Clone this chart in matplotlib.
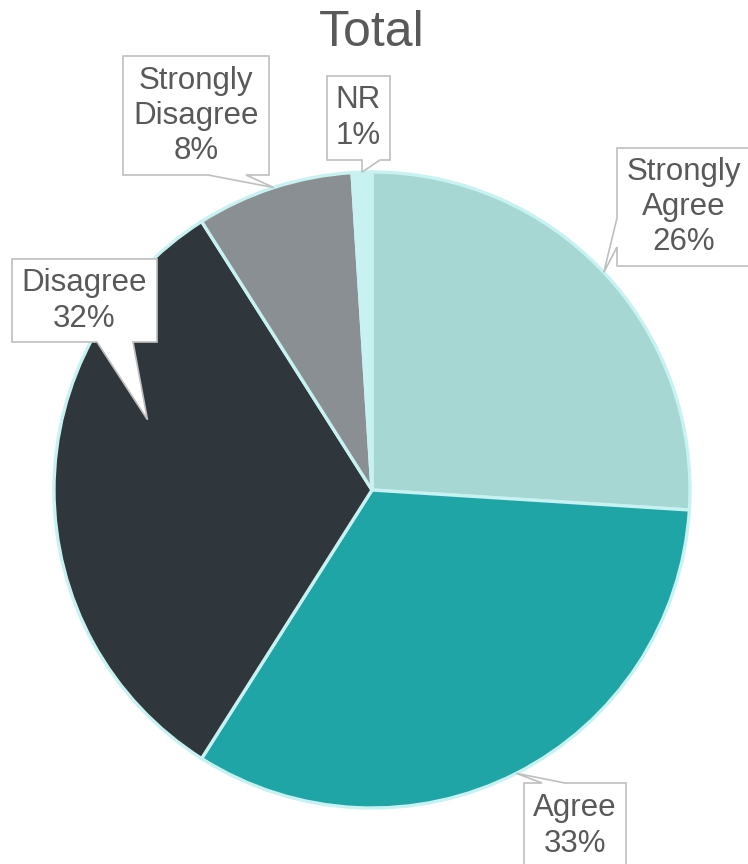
import numpy as np
import matplotlib
matplotlib.use("Agg")
import matplotlib.pyplot as plt
from matplotlib.patches import Polygon

# Survey response shares (clockwise from 12 o'clock)
categories = ["Strongly Agree", "Agree", "Disagree", "Strongly Disagree", "NR"]
shares = [26, 33, 32, 8, 1]
colors = ["#A6D7D3", "#1FA5A5", "#2F363C", "#8A8F93", "#C8F2F2"]
title = "Total"

W, H = 748, 864
fig = plt.figure(figsize=(W / 100, H / 100), dpi=100)
ax = fig.add_axes([0, 0, 1, 1])

plt.rcParams["font.family"] = ["Liberation Sans", "DejaVu Sans"]
text_color = "#595959"

cx, cy, R = 372, H - 490, 318
wedges, _ = ax.pie(shares, colors=colors, startangle=90, counterclock=False,
                   center=(cx, cy), radius=R, frame=True,
                   wedgeprops=dict(edgecolor="#C8F2F2", linewidth=2.4))
ax.set_xlim(0, W)
ax.set_ylim(0, H)
ax.set_aspect("equal")
ax.axis("off")

ax.text(cx, H - 33, title, ha="center", va="center", fontsize=36, color=text_color)

# Callout layout (pixel units, y measured from the top edge)
# box: x0, x1, top, bottom; side of pointer; pointer base span; text centre;
# tip: position along the slice (0 = start, 1 = end) and radial fraction
callouts = {
    "Strongly Agree":    dict(box=(617, 752, 148, 266), side="left", base=(218, 247), tc=(684, 207), tip=(0.5, 1.0)),
    "Agree":             dict(box=(524, 626, 783, 880), side="top", base=(542, 565), tc=(575, 826), tip=(0.5, 1.0)),
    "Disagree":          dict(box=(12, 157, 259, 342), side="bottom", base=(97, 133), tc=(84, 301), tip=(0.651, 0.74)),
    "Strongly Disagree": dict(box=(123, 269, 56, 175), side="bottom", base=(208, 246), tc=(196, 116), tip=(0.5, 1.0)),
    "NR":                dict(box=(327, 390, 76, 160), side="bottom", base=(362, 380), tc=(358, 118), tip=(0.5, 1.0)),
}

for wedge, cat, val in zip(wedges, categories, shares):
    c = callouts[cat]
    t1, t2 = wedge.theta1, wedge.theta2
    frac, rfrac = c["tip"]
    ang = np.deg2rad(t2 - frac * (t2 - t1))
    tx, ty = cx + R * rfrac * np.cos(ang), cy + R * rfrac * np.sin(ang)
    x0, x1, top, bot = c["box"]
    yt, yb = H - top, H - bot
    b0, b1 = c["base"]
    if c["side"] == "left":
        pts = [(x0, yt), (x1, yt), (x1, yb), (x0, yb), (x0, H - b1), (tx, ty), (x0, H - b0)]
    elif c["side"] == "top":
        pts = [(x0, yt), (b0, yt), (tx, ty), (b1, yt), (x1, yt), (x1, yb), (x0, yb)]
    else:
        pts = [(x0, yt), (x1, yt), (x1, yb), (b1, yb), (tx, ty), (b0, yb), (x0, yb)]
    ax.add_patch(Polygon(pts, closed=True, facecolor="white", edgecolor="#BFBFBF",
                         linewidth=1.2, zorder=5, joinstyle="miter"))
    label = cat.replace(" ", "\n") + f"\n{val}%"
    ax.text(c["tc"][0], H - c["tc"][1], label, ha="center", va="center",
            multialignment="center", fontsize=22.5, color=text_color,
            linespacing=1.22, zorder=6)

fig.savefig("out.png", dpi=100)
